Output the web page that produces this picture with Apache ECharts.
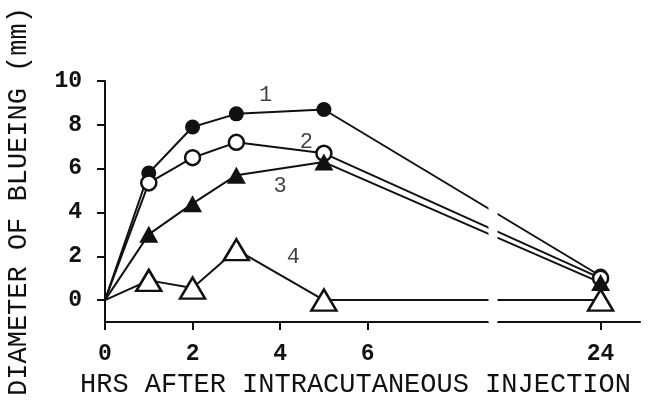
<!DOCTYPE html>
<html>
<head>
<meta charset="utf-8">
<script src="https://cdn.jsdelivr.net/npm/echarts@6/dist/echarts.min.js"></script>
<style>
  html, body { margin: 0; padding: 0; background: #fff; }
  #chart { width: 648px; height: 404px; }
</style>
</head>
<body>
<div id="chart"></div>
<script>
// hours after injection
const hours = [0, 1, 2, 3, 5, 24];
// diameter of blueing (mm), one array per curve
const curve1 = [0, 5.8, 7.9, 8.5, 8.7, 1.1];
const curve2 = [0, 5.35, 6.5, 7.2, 6.7, 1.0];
const curve3 = [0, 3.0, 4.4, 5.7, 6.3, 0.8];
const curve4 = [0, 0.9, 0.55, 2.3, 0, 0];

const xTicks = [0, 2, 4, 6, 24];
const yTicks = [0, 2, 4, 6, 8, 10];

// curve number labels, placed in data coordinates
const tagText = ['1', '2', '3', '4'];
const tagX = [3.67, 4.6, 4.0, 4.3];
const tagY = [9.35, 7.2, 5.2, 1.95];

const ink = '#111';
const mono = '"Liberation Mono", "DejaVu Sans Mono", monospace';

const chart = echarts.init(document.getElementById('chart'), null, {renderer: 'canvas'});

// build [x, y] pairs; the origin point has no marker
function pairs(ys) {
    return hours.map((h, i) => i === 0
        ? {value: [h, ys[i]], symbol: 'none'}
        : [h, ys[i]]);
}

function curve(ys, symbol, size, filled) {
    return {
        type: 'line',
        data: pairs(ys),
        symbol: symbol,
        symbolSize: size,
        showAllSymbol: true,
        lineStyle: {color: ink, width: 2},
        itemStyle: {
            color: filled ? ink : '#fff',
            borderColor: ink,
            borderWidth: filled ? 0 : 2.5
        },
        emphasis: {disabled: true},
        animation: false
    };
}

const option = {
    animation: false,
    grid: {left: 105, right: 8, top: 81, bottom: 82, outerBoundsMode: 'none', containLabel: false},
    xAxis: {
        type: 'value',
        min: 0,
        max: 24.9,
        breaks: [{start: 8.75, end: 21.65, gap: '1.8%'}],
        breakArea: {
            show: true,
            itemStyle: {color: '#fff', borderColor: '#fff', borderWidth: 0, opacity: 1},
            zigzagAmplitude: 0
        },
        axisLine: {onZero: false, lineStyle: {color: ink, width: 2}},
        axisTick: {show: true, inside: false, length: 8, lineStyle: {color: ink, width: 2}, customValues: xTicks},
        axisLabel: {
            customValues: xTicks,
            margin: 21,
            color: ink,
            fontFamily: mono,
            fontWeight: 'bold',
            fontSize: 23
        },
        splitLine: {show: false},
        name: 'HRS AFTER INTRACUTANEOUS INJECTION',
        nameLocation: 'middle',
        nameGap: 49,
        nameTextStyle: {color: ink, fontFamily: mono, fontSize: 27, padding: [0, 34, 0, 0]}
    },
    yAxis: {
        type: 'value',
        min: -1,
        max: 10,
        axisLine: {show: true, lineStyle: {color: ink, width: 2}},
        axisTick: {show: true, inside: false, length: 8, lineStyle: {color: ink, width: 2}, customValues: yTicks},
        axisLabel: {
            customValues: yTicks,
            margin: 23,
            color: ink,
            fontFamily: mono,
            fontWeight: 'bold',
            fontSize: 23
        },
        splitLine: {show: false},
        name: 'DIAMETER OF BLUEING (mm)',
        nameLocation: 'middle',
        nameGap: 73,
        nameTextStyle: {color: ink, fontFamily: mono, fontSize: 27}
    },
    series: [
        curve(curve1, 'circle', 15, true),
        curve(curve2, 'circle', 15, false),
        curve(curve3, 'triangle', [19, 17], true),
        curve(curve4, 'triangle', [25, 21], false),
        {
            type: 'scatter',
            data: tagText.map((t, i) => ({name: t, value: [tagX[i], tagY[i]]})),
            symbolSize: 1,
            itemStyle: {color: 'transparent'},
            label: {
                show: true,
                position: 'inside',
                formatter: '{b}',
                color: ink,
                fontFamily: mono,
                fontSize: 22
            },
            emphasis: {disabled: true},
            silent: true,
            z: 5
        }
    ]
};

chart.setOption(option);
</script>
</body>
</html>
